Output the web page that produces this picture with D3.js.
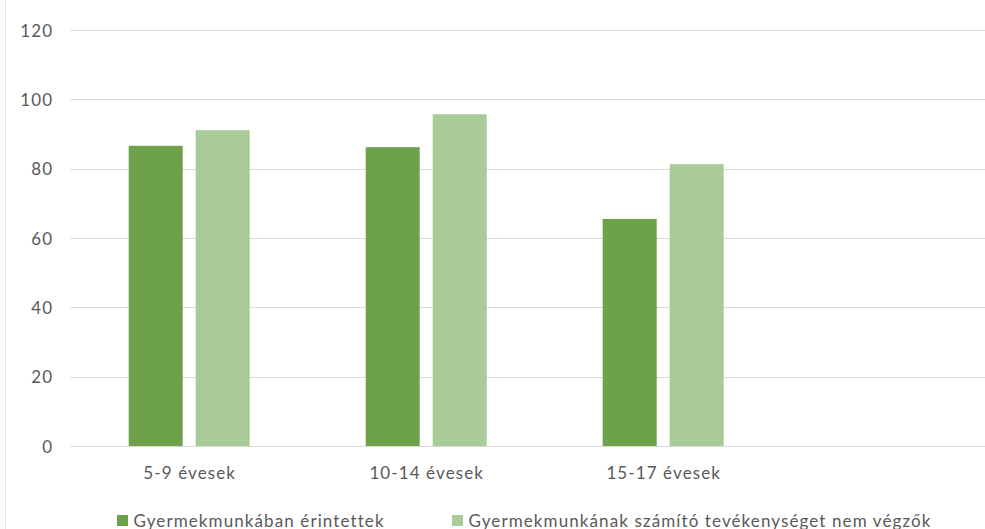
<!DOCTYPE html>
<html>
<head>
<meta charset="utf-8">
<script src="https://cdn.jsdelivr.net/npm/d3@7"></script>
<style>
  html, body { margin: 0; padding: 0; background: #fff; }
  svg { display: block; }
  text { font-family: Lato, "Open Sans", sans-serif; fill: #595959; font-size: 17px; letter-spacing: 1.1px; }
</style>
</head>
<body>
<svg id="chart" width="985" height="529"></svg>
<script>
const categories = ["5-9 évesek", "10-14 évesek", "15-17 évesek", ""];
const seriesNames = ["Gyermekmunkában érintettek", "Gyermekmunkának számító tevékenységet nem végzők"];
const seriesA = [86.6, 86.2, 65.5, null];
const seriesB = [91.1, 95.7, 81.3, null];
const yTicks = [0, 20, 40, 60, 80, 100, 120];
const colors = ["#6ea24a", "#a9cb98"];

const svg = d3.select("#chart");
const W = 985, H = 529;
const plotLeft = 70.7, plotRight = 1018.7, plotTop = 30, plotBottom = 446;

const x0 = d3.scaleBand().domain(categories).range([plotLeft, plotRight]).padding(0);
const groupW = 121;
const x1 = d3.scaleBand().domain(seriesNames).range([0, groupW]).paddingInner(13 / 67).paddingOuter(0);
const y = d3.scaleLinear().domain([0, 120]).range([plotBottom, plotTop]);

// left chart border
svg.append("line").attr("x1", 5.5).attr("x2", 5.5).attr("y1", 0).attr("y2", H)
  .attr("stroke", "#e8e8e8").attr("stroke-width", 1);

// gridlines
svg.append("g").selectAll("line").data(yTicks).join("line")
  .attr("x1", plotLeft).attr("x2", W)
  .attr("y1", d => Math.round(y(d)) + 0.5).attr("y2", d => Math.round(y(d)) + 0.5)
  .attr("stroke", "#d9d9d9").attr("stroke-width", 1);

// y axis labels
const yAxis = d3.axisLeft(y).tickValues(yTicks).tickSize(0).tickPadding(0);
const gy = svg.append("g").attr("transform", `translate(${plotLeft},0)`).call(yAxis);
gy.select(".domain").remove();
gy.selectAll(".tick text").attr("x", -17.5).attr("dy", "0.36em")
  .style("font-size", "17px").style("font-family", "Lato, sans-serif").style("fill", "#595959");

// bars
const groups = svg.append("g").selectAll("g").data(categories).join("g")
  .attr("transform", d => `translate(${x0(d) + (x0.bandwidth() - groupW) / 2},0)`);
groups.selectAll("rect")
  .data((d, i) => [
    { s: seriesNames[0], v: seriesA[i], c: colors[0] },
    { s: seriesNames[1], v: seriesB[i], c: colors[1] }
  ].filter(e => e.v != null))
  .join("rect")
  .attr("x", d => x1(d.s))
  .attr("width", x1.bandwidth())
  .attr("y", d => y(d.v))
  .attr("height", d => y(0) - y(d.v))
  .attr("fill", d => d.c);

// x axis labels
const xAxis = d3.axisBottom(x0).tickSize(0).tickPadding(0);
const gx = svg.append("g").attr("transform", `translate(0,${plotBottom})`).call(xAxis);
gx.select(".domain").remove();
gx.selectAll(".tick text").attr("y", 33).attr("dy", 0).attr("dx", 0.5)
  .style("font-size", "17px").style("font-family", "Lato, sans-serif").style("fill", "#595959");

// legend
const legendX = [117, 452];
const lg = svg.append("g").selectAll("g").data(seriesNames).join("g")
  .attr("transform", (d, i) => `translate(${legendX[i]},515)`);
lg.append("rect").attr("width", 11).attr("height", 11).attr("fill", (d, i) => colors[i]);
lg.append("text").attr("x", 16.5).attr("y", 11.5).text(d => d);
</script>
</body>
</html>
